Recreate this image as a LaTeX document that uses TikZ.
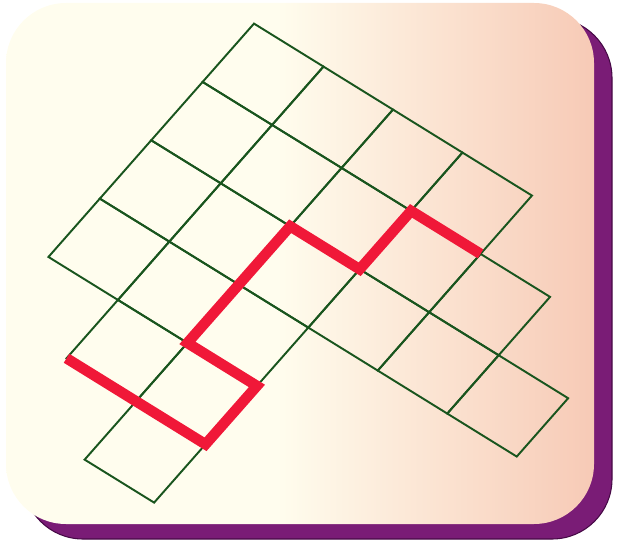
\documentclass[tikz,border=0pt]{standalone}
\usepackage{tikz}
\usetikzlibrary{calc}
\usepackage{xcolor}

\definecolor{cardcream}{RGB}{255,253,238}
\definecolor{cardpeach}{RGB}{247,202,182}
\definecolor{shadowpurple}{RGB}{122,28,118}
\definecolor{shadowedge}{RGB}{70,10,70}
\definecolor{gridgreen}{RGB}{25,85,30}
\definecolor{pathred}{RGB}{240,24,56}

\pgfdeclarehorizontalshading{cardfade}{100bp}{%
  color(0bp)=(cardcream); color(25bp)=(cardcream); color(48bp)=(cardcream);
  color(75bp)=(cardpeach); color(100bp)=(cardpeach)}

\begin{document}
\begin{tikzpicture}[
    x=0.02cm, y=-0.02cm,
    card/.style={rounded corners=1.2cm},
    gridline/.style={draw=gridgreen, line width=1.1pt, line join=miter},
    redpath/.style={draw=pathred, line width=6pt, line join=miter}
  ]
  \useasboundingbox (0,0) rectangle (622,544);

  %% ---- card with its shadow ----
  \fill[card, shadowpurple, draw=shadowedge, line width=0.6pt] (23,18) rectangle (612,539);
  \shade[card, shading=cardfade] (6,3) rectangle (594,524);

  %% ---- slanted grid of squares ----
  \begin{scope}[shift={(254,23.6)}, x={(1.39cm,-0.86cm)}, y={(-1.028cm,-1.167cm)}]
    %% full rows
    \foreach \j/\last in {0/3, 1/4, 2/5, 3/2}{
      \foreach \i in {0,...,\last}{
        \draw[gridline] (\i,\j) -- ++(1,0) -- ++(0,1) -- ++(-1,0) -- cycle;
      }
    }
    %% lower tail
    \foreach \i/\j in {1/4, 2/4, 2/5}{
      \draw[gridline] (\i,\j) -- ++(1,0) -- ++(0,1) -- ++(-1,0) -- cycle;
    }

    %% red route
    \coordinate (r1) at (1,5);
    \coordinate (r2) at (3,5);
    \coordinate (r3) at (3,4);
    \coordinate (r4) at (2,4);
    \coordinate (r5) at (2,2);
    \coordinate (r6) at (3,2);
    \coordinate (r7) at (3,1);
    \coordinate (r8) at (4,1);
    \draw[redpath] (r1) -- (r2) -- (r3) -- (r4) -- (r5) -- (r6) -- (r7) -- (r8);
  \end{scope}

\end{tikzpicture}
\end{document}
